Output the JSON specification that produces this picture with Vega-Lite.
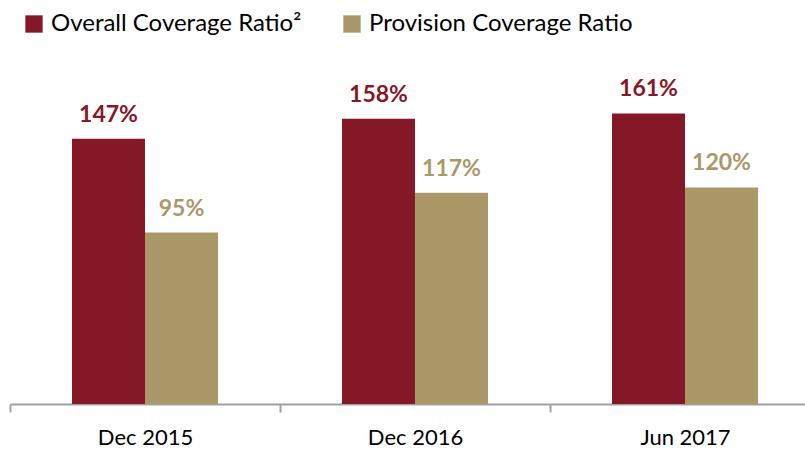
{
  "$schema": "https://vega.github.io/schema/vega-lite/v6.json",
  "width": 810,
  "height": 361,
  "autosize": {"type": "none"},
  "padding": {"left": 10, "top": 43, "right": 0, "bottom": 46},
  "background": "white",
  "config": {"view": {"stroke": null}, "font": "Lato"},
  "data": {
    "values": [
      {"period": "Dec 2015", "series": "Overall Coverage Ratio²", "value": 147},
      {"period": "Dec 2015", "series": "Provision Coverage Ratio", "value": 95},
      {"period": "Dec 2016", "series": "Overall Coverage Ratio²", "value": 158},
      {"period": "Dec 2016", "series": "Provision Coverage Ratio", "value": 117},
      {"period": "Jun 2017", "series": "Overall Coverage Ratio²", "value": 161},
      {"period": "Jun 2017", "series": "Provision Coverage Ratio", "value": 120}
    ]
  },
  "transform": [{"calculate": "datum.value + '%'", "as": "label"}],
  "encoding": {
    "x": {
      "field": "period",
      "type": "nominal",
      "sort": ["Dec 2015", "Dec 2016", "Jun 2017"],
      "scale": {"paddingInner": 0, "paddingOuter": 0},
      "axis": {
        "title": null,
        "labelAngle": 0,
        "labelFont": "Lato",
        "labelFontSize": 22,
        "labelColor": "#000000",
        "labelBaseline": "alphabetic",
        "labelPadding": 32,
        "domainColor": "#a0a0a0",
        "domainWidth": 2,
        "tickColor": "#a0a0a0",
        "tickWidth": 2,
        "tickSize": 8,
        "tickBand": "extent"
      }
    },
    "xOffset": {
      "field": "series",
      "type": "nominal",
      "sort": ["Overall Coverage Ratio²", "Provision Coverage Ratio"],
      "scale": {"paddingInner": 0, "paddingOuter": 0.8493}
    },
    "y": {
      "field": "value",
      "type": "quantitative",
      "scale": {"domain": [0, 200], "nice": false},
      "axis": null
    },
    "color": {
      "field": "series",
      "type": "nominal",
      "sort": ["Overall Coverage Ratio²", "Provision Coverage Ratio"],
      "scale": {"range": ["#851827", "#ab9869"]},
      "legend": {
        "title": null,
        "orient": "none",
        "direction": "horizontal",
        "legendX": 12,
        "legendY": -31,
        "symbolType": "square",
        "symbolSize": 300,
        "symbolStrokeWidth": 0,
        "symbolOpacity": 1,
        "labelFont": "Lato",
        "labelFontSize": 24,
        "labelLimit": 0,
        "labelColor": "#000000",
        "labelOffset": 5,
        "columnPadding": 38,
        "padding": 0
      }
    }
  },
  "layer": [
    {"mark": {"type": "bar", "opacity": 1}},
    {
      "mark": {"type": "text", "baseline": "alphabetic", "dy": -17, "fontWeight": "bold", "fontSize": 23, "font": "Lato"},
      "encoding": {"text": {"field": "label", "type": "nominal"}}
    }
  ]
}
